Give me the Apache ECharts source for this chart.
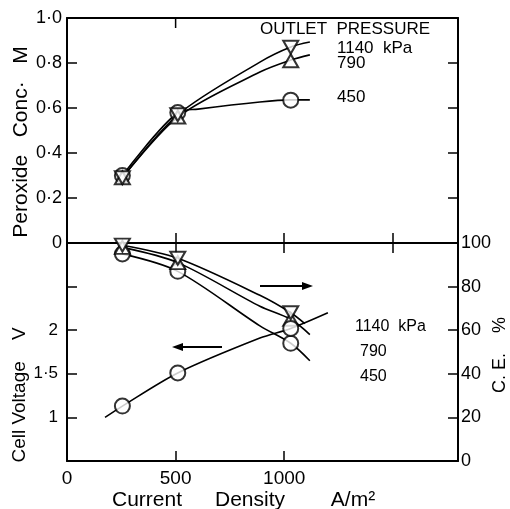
<!DOCTYPE html>
<html>
<head>
<meta charset="utf-8">
<script src="https://cdn.jsdelivr.net/npm/echarts@6/dist/echarts.min.js"></script>
<style>
  html, body { margin: 0; padding: 0; background: #fff; }
  #chart { width: 510px; height: 509px; }
</style>
</head>
<body>
<div id="chart"></div>
<script>
// measured current densities (A/m2)
const currentPts = [255, 510, 1030];

// peroxide conc. (M) per outlet pressure
const perox1140 = [0.29, 0.57, 0.87];
const perox790 = [0.29, 0.56, 0.81];
const perox450 = [0.30, 0.58, 0.635];

// current efficiency (%)
const ce1140 = [99, 93, 68];
const ce790 = [98, 91, 65];
const ce450 = [95, 87, 54];

// cell voltage (V)
const cellVolt = [1.13, 1.51, 2.02];

// hand-drawn curves
const curvePx1140X = [255, 510, 888, 1030, 1118];
const curvePx1140Y = [0.29, 0.57, 0.804, 0.871, 0.893];
const curvePx790X = [255, 510, 888, 1030, 1118];
const curvePx790Y = [0.29, 0.56, 0.76, 0.813, 0.836];
const curvePx450X = [255, 510, 603, 888, 1030, 1118];
const curvePx450Y = [0.30, 0.58, 0.595, 0.627, 0.636, 0.636];

const curveCe1140X = [255, 510, 888, 1030, 1095];
const curveCe1140Y = [99, 93, 76, 68, 63];
const curveCe790X = [255, 510, 888, 1030, 1118];
const curveCe790Y = [98, 91, 71, 65, 58];
const curveCe450X = [255, 510, 888, 1030, 1118];
const curveCe450Y = [95, 87, 62, 54, 46];

const curveVoltX = [175, 255, 510, 888, 1030, 1201];
const curveVoltY = [1.0, 1.13, 1.51, 1.91, 2.02, 2.2];

const xTicks = [0, 500, 1000, 1500];
const topEdgeTicks = [500];

const FONT = '"Liberation Sans", Arial, sans-serif';

function pairs(xs, ys) {
    return xs.map((x, i) => [x, ys[i]]);
}
function dot(v) {
    return String(v).replace('.', '·');
}

const lineStyle = { color: '#000', width: 1.6 };
const markStyle = { color: '#fff', borderColor: '#000', borderWidth: 2 };

function lineSeries(xi, yi, data) {
    return {
        type: 'line', xAxisIndex: xi, yAxisIndex: yi, data: data,
        smooth: 0.3, showSymbol: false, symbol: 'none',
        lineStyle: lineStyle, z: 2, silent: true
    };
}
function markSeries(xi, yi, data, symbol, rotate) {
    return {
        type: 'scatter', xAxisIndex: xi, yAxisIndex: yi, data: data,
        symbol: symbol, symbolRotate: rotate || 0,
        symbolSize: symbol === 'circle' ? 15 : [15, 13],
        itemStyle: markStyle, z: 3, silent: true
    };
}
function txt(t, x, y, size, align) {
    return { type: 'text', x: x, y: y,
        style: { text: t, font: size + 'px ' + FONT, fill: '#000',
                 textAlign: align || 'left', textVerticalAlign: 'middle' } };
}
function vtxt(t, x, y, size) {
    return { type: 'text', x: x, y: y, rotation: Math.PI / 2,
        style: { text: t, font: size + 'px ' + FONT, fill: '#000',
                 textAlign: 'center', textVerticalAlign: 'middle' } };
}

const axisLine = { show: true, onZero: false, lineStyle: { color: '#000', width: 2 } };
const tickIn = { show: true, inside: true, length: 10, lineStyle: { color: '#000', width: 1.5 } };
const labelStyle = { color: '#000', fontFamily: FONT, fontSize: 18 };

let option = {
    animation: false,
    backgroundColor: '#fff',
    grid: [
        { left: 67, right: 52, top: 18, height: 225, outerBoundsMode: 'none' },
        { left: 67, right: 52, top: 243, height: 218, outerBoundsMode: 'none' }
    ],
    xAxis: [
        { type: 'value', gridIndex: 0, min: 0, max: 1800, interval: 500, position: 'bottom',
          axisLine: axisLine, axisTick: tickIn, axisLabel: { show: false }, splitLine: { show: false } },
        { type: 'value', gridIndex: 0, min: 0, max: 1800, interval: 500, position: 'top',
          axisLine: axisLine, axisTick: { show: false },
          axisLabel: { show: false }, splitLine: { show: false } },
        { type: 'value', gridIndex: 1, min: 0, max: 1800, interval: 500, position: 'bottom',
          axisLine: axisLine, axisTick: tickIn,
          axisLabel: Object.assign({}, labelStyle, { fontSize: 19, margin: 8, showMaxLabel: false,
              customValues: xTicks, formatter: v => String(v) }),
          splitLine: { show: false } },
        { type: 'value', gridIndex: 1, min: 0, max: 1800, interval: 500, position: 'top',
          axisLine: axisLine, axisTick: tickIn, axisLabel: { show: false }, splitLine: { show: false } }
    ],
    yAxis: [
        { type: 'value', gridIndex: 0, min: 0, max: 1, interval: 0.2, position: 'left',
          axisLine: axisLine, axisTick: tickIn, splitLine: { show: false },
          axisLabel: Object.assign({}, labelStyle, { margin: 5,
              formatter: v => v === 0 ? '0' : dot(v.toFixed(1)) }) },
        { type: 'value', gridIndex: 0, min: 0, max: 1, interval: 0.2, position: 'right',
          axisLine: axisLine, axisTick: tickIn, splitLine: { show: false }, axisLabel: { show: false } },
        { type: 'value', gridIndex: 1, min: 0.5, max: 3, interval: 0.5, position: 'left',
          axisLine: axisLine, axisTick: tickIn, splitLine: { show: false },
          axisLabel: Object.assign({}, labelStyle, { fontSize: 17, margin: 9,
              formatter: v => (v >= 1 && v <= 2) ? dot(v) : '' }) },
        { type: 'value', gridIndex: 1, min: 0, max: 100, interval: 20, position: 'right',
          axisLine: axisLine, axisTick: tickIn, splitLine: { show: false },
          axisLabel: Object.assign({}, labelStyle, { margin: 3 }) }
    ],
    series: [
        // peroxide
        lineSeries(0, 0, pairs(curvePx1140X, curvePx1140Y)),
        lineSeries(0, 0, pairs(curvePx790X, curvePx790Y)),
        lineSeries(0, 0, pairs(curvePx450X, curvePx450Y)),
        markSeries(0, 0, pairs(currentPts, perox450), 'circle'),
        markSeries(0, 0, pairs(currentPts, perox790), 'triangle'),
        markSeries(0, 0, pairs(currentPts, perox1140), 'triangle', 180),
        // current efficiency
        lineSeries(2, 3, pairs(curveCe1140X, curveCe1140Y)),
        lineSeries(2, 3, pairs(curveCe790X, curveCe790Y)),
        lineSeries(2, 3, pairs(curveCe450X, curveCe450Y)),
        markSeries(2, 3, pairs(currentPts, ce450), 'circle'),
        markSeries(2, 3, pairs(currentPts, ce790), 'triangle'),
        markSeries(2, 3, pairs(currentPts, ce1140), 'triangle', 180),
        // cell voltage
        lineSeries(2, 2, pairs(curveVoltX, curveVoltY)),
        markSeries(2, 2, pairs(currentPts, cellVolt), 'circle')
    ],
    graphic: [
        txt('OUTLET  PRESSURE', 260, 29, 17),
        txt('1140  kPa', 337, 48, 17),
        txt('790', 337, 63, 17),
        txt('450', 337, 97, 17),
        txt('1140  kPa', 355, 327, 16),
        txt('790', 360, 352, 16),
        txt('450', 360, 377, 16),
        // axis titles
        vtxt('Peroxide   Conc·   M', 21, 142, 21),
        vtxt('Cell Voltage    V', 20, 395, 19),
        vtxt('C. E.    %', 500, 355, 18),
        txt('Current', 147, 500, 21, 'center'),
        txt('Density', 250, 500, 21, 'center'),
        txt('A/m²', 353, 500, 21, 'center'),
        // arrows
        { type: 'line', shape: { x1: 260, y1: 286, x2: 304, y2: 286 }, style: { stroke: '#000', lineWidth: 2 } },
        { type: 'polygon', shape: { points: [[313, 286], [302, 282], [302, 290]] }, style: { fill: '#000' } },
        { type: 'line', shape: { x1: 181, y1: 347, x2: 222, y2: 347 }, style: { stroke: '#000', lineWidth: 2 } },
        { type: 'polygon', shape: { points: [[172, 347], [183, 343], [183, 351]] }, style: { fill: '#000' } }
    ]
};

let chart = echarts.init(document.getElementById('chart'));
chart.setOption(option);

// the top edge only carries a tick at 500
let topY = chart.convertToPixel({ yAxisIndex: 0 }, 1);
let extraTicks = topEdgeTicks.map(v => {
    let px = chart.convertToPixel({ xAxisIndex: 1 }, v);
    return { type: 'line', shape: { x1: px, y1: topY, x2: px, y2: topY + 10 },
             style: { stroke: '#000', lineWidth: 1.5 } };
});
chart.setOption({ graphic: option.graphic.concat(extraTicks) });
</script>
</body>
</html>
